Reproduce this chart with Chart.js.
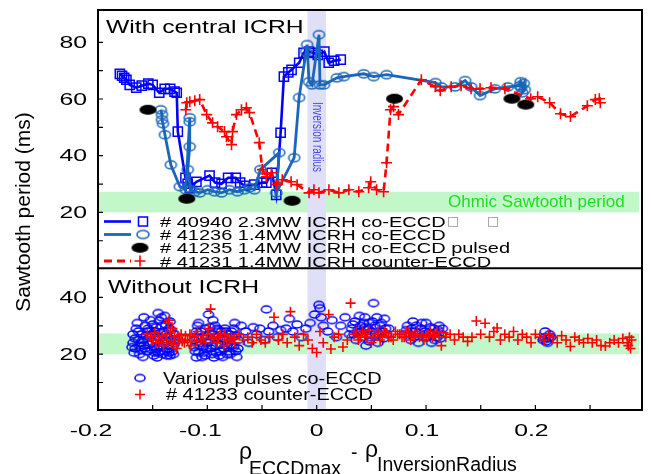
<!DOCTYPE html>
<html>
<head>
<meta charset="utf-8">
<script src="https://cdn.jsdelivr.net/npm/chart.js@4.4.1/dist/chart.umd.min.js"></script>
<style>
html,body{margin:0;padding:0;background:#ffffff;overflow:hidden;}
canvas{display:block;}
</style>
</head>
<body>
<canvas id="chart" width="651" height="474"></canvas>
<script>
// ---------------- DATA ----------------
const xTickValues = [-0.2, -0.1, 0, 0.1, 0.2];
const xTickLabels = ['-0.2', '-0.1', '0', '0.1', '0.2'];
const xMinorTickValues = [-0.15, -0.1, -0.05, 0, 0.05, 0.1, 0.15, 0.2, 0.25];
const yTopTickValues = [20, 40, 60, 80];
const yTopMinorTickValues = [10, 20, 30, 40, 50, 60, 70, 80];
const yBottomTickValues = [20, 40];
const yBottomMinorTickValues = [10, 20, 30, 40];
const ohmicBand = [20, 27.3];
const inversionBand = [-0.0085, 0.0085];

// # 40940 2.3MW ICRH co-ECCD
const s40940X = [-0.180,-0.178,-0.176,-0.174,-0.171,-0.165,-0.160,-0.154,-0.150,-0.144,-0.139,-0.134,-0.130,-0.128,-0.127,-0.120,-0.118,-0.116,-0.110,-0.098,-0.093,-0.087,-0.081,-0.074,-0.070,-0.066,-0.057,-0.050,-0.046,-0.041,-0.037,-0.033,-0.030,-0.026,-0.023,-0.016,-0.012,-0.007,-0.003,0.001,0.007,0.011,0.016,0.022];
const s40940Y = [68.9,68.2,67.5,66.8,65.0,64.0,64.7,65.4,65.0,62.2,63.6,63.6,62.6,62.2,48.5,32.2,30.1,28.7,30.8,33.0,30.5,30.1,32.2,32.2,30.5,29.4,29.8,30.5,30.5,34.0,26.2,48.1,67.9,69.4,70.3,72.8,76.3,76.7,76.3,75.6,76.7,72.8,73.5,73.9];

// # 41236 1.4MW ICRH co-ECCD
const s41236X = [-0.1425,-0.1415,-0.1415,-0.1406,-0.1388,-0.1334,-0.1252,-0.1197,-0.1161,-0.1161,-0.1161,-0.1179,-0.1152,-0.1115,-0.107,-0.0997,-0.0934,-0.087,-0.0797,-0.0725,-0.0661,-0.0615,-0.057,-0.0515,-0.0343,-0.037,-0.0206,-0.0161,-0.0097,-0.0088,-0.007,-0.0043,0.0021,0.003,0.0066,0.0185,0.0248,0.043,0.0521,0.0639,0.1085,0.1139,0.1266,0.1357,0.1412,0.1494,0.163,0.1748,0.1857,0.1866,0.1903,0.1880,0.1894,0.1870];
const s41236Y = [56.2,54.5,52.7,51.3,47.4,36.8,29.1,28.0,53.4,52.0,43.2,35.1,28.0,27.3,26.9,28.0,27.3,26.9,28.0,27.3,28.0,28.7,28.0,35.1,41.1,26.9,39.3,60.5,76.7,79.2,66.1,65.0,82.7,65.0,65.0,67.5,67.9,68.9,67.9,68.6,65.8,64.3,64.3,66.5,64.3,61.2,63.6,64.3,64.7,66.1,63.3,62.2,65.5,64.0];

// # 41235 1.4MW ICRH co-ECCD pulsed
const s41235X = [-0.1543,-0.1188,-0.0225,0.0712,0.1785,0.1912];
const s41235Y = [56.2,24.8,24.1,60.1,60.1,58.0];

// # 41231 1.4MW ICRH counter-ECCD
const s41231X = [-0.1197,-0.1188,-0.1161,-0.1115,-0.107,-0.1006,-0.0952,-0.0906,-0.0843,-0.0825,-0.0779,-0.077,-0.0734,-0.0688,-0.0643,-0.0615,-0.0525,-0.0497,-0.0461,-0.0415,-0.037,-0.0315,-0.0234,-0.0179,-0.007,-0.0025,0.0021,0.0112,0.0203,0.0294,0.0385,0.0475,0.0494,0.0548,0.0612,0.0639,0.0675,0.0703,0.0748,0.0957,0.1085,0.113,0.123,0.1321,0.1412,0.1494,0.1594,0.1721,0.1957,0.2021,0.213,0.223,0.2321,0.2475,0.2548,0.2585,0.2594];
const s41231Y = [56.2,58.7,59.0,59.4,59.8,54.5,51.6,50.2,48.5,46.7,43.9,48.5,54.5,56.2,56.9,55.2,44.6,35.1,32.6,34.0,29.8,31.5,30.8,29.8,26.9,28.0,26.9,28.0,26.9,28.0,27.3,28.7,30.8,28.0,27.3,37.5,56.2,57.3,54.5,66.8,64.3,62.9,64.3,64.7,63.6,63.6,64.0,63.6,60.1,60.8,58.7,54.8,53.8,57.6,59.8,60.1,58.7];

// Without ICRH: various pulses co-ECCD [x, y]
const variousCoEccd = [
[-0.168,24],[-0.168,27],[-0.166,22],[-0.165,29],[-0.163,25],[-0.162,20],[-0.160,27],[-0.158,23],[-0.157,30],[-0.155,21],[-0.153,26],[-0.152,32],[-0.150,24],[-0.149,19.5],[-0.148,28],[-0.146,22],[-0.145,34.5],[-0.144,26],[-0.142,30],[-0.141,20],[-0.140,24],[-0.139,33.5],[-0.138,27],[-0.136,22],[-0.135,29],[-0.134,19.5],[-0.133,25],[-0.131,23],[-0.130,27],
[-0.167,20.5],[-0.164,31],[-0.161,24],[-0.159,19],[-0.156,26.5],[-0.154,29],[-0.151,21.5],[-0.147,25],[-0.143,22.5],[-0.140,28],[-0.137,19.5],[-0.137,24.5],[-0.134,31.5],[-0.132,21],[-0.129,25],[-0.150,30.5],[-0.146,18.8],[-0.158,33],[-0.144,31.8],
[-0.169,22.5],[-0.166,25.5],[-0.163,28],[-0.161,21.5],[-0.159,25],[-0.157,22],[-0.155,28],[-0.153,23.5],[-0.151,27],[-0.149,22.5],[-0.147,29.5],[-0.145,20.5],[-0.143,27.5],[-0.141,23],[-0.139,21],[-0.138,30.5],[-0.136,26],[-0.135,20.5],[-0.133,28.5],[-0.131,20],[-0.130,24],[-0.162,23],[-0.148,20.5],[-0.142,33],
[-0.112,25],[-0.111,21],[-0.110,28],[-0.108,31],[-0.107,23],[-0.105,19],[-0.104,26],[-0.102,29],[-0.101,22],[-0.099,34],[-0.098,25],[-0.096,20],[-0.095,27],[-0.093,30],[-0.092,23],[-0.090,26],[-0.089,19.5],[-0.087,28],[-0.085,22],[-0.084,25],[-0.082,20],[-0.080,27],[-0.078,23],[-0.076,29],[-0.074,21],[-0.072,25],
[-0.110,18.8],[-0.106,24],[-0.103,20.5],[-0.100,26.5],[-0.097,22],[-0.094,18.8],[-0.091,29],[-0.088,23.5],[-0.086,19],[-0.083,28],[-0.081,24],[-0.079,20],[-0.077,26],[-0.075,31],[-0.073,19],[-0.109,30],[-0.095,32],
[-0.112,22.5],[-0.110,26],[-0.108,20.5],[-0.106,28],[-0.104,22.5],[-0.102,19.5],[-0.100,24],[-0.098,29.5],[-0.096,23],[-0.094,26],[-0.092,20.5],[-0.090,28.5],[-0.088,21],[-0.086,25.5],[-0.084,29],[-0.082,23],[-0.080,21],[-0.078,28],[-0.076,22.5],[-0.074,26.5],[-0.072,22],
[-0.069,30],[-0.065,28],[-0.062,24],[-0.058,29.5],[-0.055,27],[-0.052,29],[-0.048,25],[-0.046,35.8],[-0.044,28],[-0.040,30],[-0.036,26],[-0.033,28.5],
[-0.028,29],[-0.025,32.5],[-0.022,28],[-0.018,30.5],[-0.014,26],[-0.010,29],[-0.006,31],[-0.002,34],[0.002,37.4],[0.003,36.2],[0.004,33],[0.006,30],[0.010,28],[0.014,32],[0.018,26],[0.022,30],[0.026,33],[0.030,27],[0.033,30.5],[0.036,25],[0.039,33.5],[0.041,28],[0.043,31],[0.045,23],[0.047,29],[0.049,26],[0.051,31.5],[0.052,38],[0.054,27],[0.056,24],[0.058,30],[0.060,28],[0.062,32.5],[0.066,29],
[0.032,29],[0.035,31.5],[0.037,27.5],[0.040,30],[0.042,26],[0.044,33],[0.046,28.5],[0.048,31],[0.050,28],[0.053,30],[0.055,33],[0.057,27],[0.059,31],[0.061,25.5],[0.063,29],[0.064,27],[0.038,28.5],[0.048,24.5],[0.034,27],[0.044,29.5],
[0.080,27],[0.083,30],[0.086,25],[0.088,31.5],[0.090,28],[0.093,24],[0.095,29],[0.098,26],[0.100,31],[0.103,27.5],[0.105,24],[0.107,29],[0.110,26],[0.112,30],[0.114,27],
[0.082,28.5],[0.085,27],[0.087,29],[0.089,26],[0.091,30],[0.094,27.5],[0.096,31],[0.099,28],[0.101,26],[0.104,29.5],[0.106,27],[0.108,25],[0.111,28.5],[0.113,25.5],[0.115,29],
[0.207,25],[0.209,28],[0.211,24],[0.213,27],[0.214,26],[0.209,26],[0.212,25.5],[0.210,24.5]
];

// Without ICRH: # 41233 counter-ECCD [x, y]
const counterEccd41233 = [
[-0.155,27],[-0.150,25],[-0.147,24],[-0.145,26.5],[-0.142,25],[-0.140,23],[-0.138,27],[-0.136,31],[-0.135,32],[-0.133,24],[-0.132,29],[-0.130,26],[-0.128,22],[-0.126,25],[-0.124,27],[-0.121,24],[-0.118,25],[-0.115,23],[-0.112,26],[-0.109,28],[-0.106,25],[-0.102,24],[-0.099,29],[-0.097,35.9],[-0.094,26],[-0.091,24],[-0.088,27],[-0.085,23],[-0.082,25],[-0.078,26],[-0.075,24],[-0.071,27],[-0.067,25],[-0.063,26],[-0.059,24],[-0.055,27],[-0.051,25],[-0.047,24],[-0.043,26],[-0.039,33],[-0.035,25],[-0.031,27],[-0.027,24],[-0.024,35],[-0.020,26],[-0.016,23],[-0.012,27],[-0.008,25],[-0.004,22],[0.000,20.6],[0.003,28],[0.006,24],[0.011,34],[0.013,21.8],[0.016,26],[0.020,27],[0.024,22.5],[0.028,25],[0.031,38],[0.034,27],[0.038,25],[0.042,28],[0.046,26],[0.050,24],[0.054,27],[0.058,25],[0.062,28],[0.066,26],[0.070,25],[0.074,27],[0.078,26],[0.082,28],[0.086,25],[0.090,27],[0.094,26],[0.098,25],[0.102,27],[0.106,26],[0.110,28],[0.114,23],[0.118,26],[0.122,27],[0.126,25],[0.130,27],[0.134,26],[0.138,24.5],[0.142,26],[0.146,31.7],[0.150,27],[0.154,30.9],[0.158,26],[0.162,28],[0.165,29.2],[0.168,25],[0.172,27],[0.176,26],[0.180,28],[0.184,25],[0.188,27],[0.192,26],[0.196,24],[0.200,27],[0.204,26],[0.208,25],[0.212,27],[0.216,26],[0.220,24],[0.224,26.5],[0.228,25],[0.232,22.7],[0.236,26],[0.240,25],[0.244,24],[0.248,25.5],[0.252,24],[0.256,25],[0.260,23],[0.264,22.9],[0.268,24],[0.272,25],[0.276,24],[0.280,25.5],[0.284,24],[0.285,23],[0.286,26],[0.287,22],[0.288,25],
[-0.152,26],[-0.148,27.5],[-0.144,24],[-0.141,26.5],[-0.137,25],[-0.134,28],[-0.131,23.5],[-0.127,26.5],[-0.123,24.5],
[-0.120,26.5],[-0.116,27],[-0.110,24.5],[-0.104,26.5],[-0.100,27],[-0.096,25.5],[-0.090,26],[-0.084,27],[-0.080,24.5],[-0.076,25.5],
[0.036,28],[0.040,26],[0.044,27],[0.048,28.5],[0.052,26],[0.056,28],[0.060,26.5],[0.064,27.5],[0.068,26],[0.072,28],[0.076,27],[0.080,26],[0.084,27.5],[0.088,26.5],[0.092,28],[0.096,27],[0.100,26],[0.104,28],[0.108,27],[0.112,26],[0.116,27.5]
];

const topPanelTitle = 'With central ICRH';
const bottomPanelTitle = 'Without ICRH';
const topLegendLabels = ['# 40940 2.3MW ICRH co-ECCD', '# 41236 1.4MW ICRH co-ECCD', '# 41235 1.4MW ICRH co-ECCD pulsed', '# 41231 1.4MW ICRH counter-ECCD'];
const bottomLegendLabels = ['Various pulses co-ECCD', '# 41233 counter-ECCD'];
const yAxisTitle = 'Sawtooth period (ms)';
const ohmicLabel = 'Ohmic Sawtooth period';
const inversionLabel = 'Inversion radius';

// ---------------- HELPERS ----------------
const FF = '"Liberation Sans", Arial, Helvetica, sans-serif';
const C_BLUE = '#0000ff', C_STEEL = '#1a66b8', C_RED = '#ff0000';

function pts(xs, ys) { return xs.map((x, i) => ({ x: x, y: ys[i] })); }
function pairPts(arr) { return arr.map(p => ({ x: p[0], y: p[1] })); }

function ellipseMarker(w, h, stroke, fill, lw) {
  const pad = Math.ceil(lw || 0) + 1;
  const c = document.createElement('canvas');
  c.width = Math.ceil(w + 2 * pad); c.height = Math.ceil(h + 2 * pad);
  const g = c.getContext('2d');
  g.beginPath();
  g.ellipse(c.width / 2, c.height / 2, w / 2, h / 2, 0, 0, Math.PI * 2);
  if (fill) { g.fillStyle = fill; g.fill(); }
  if (stroke) { g.lineWidth = lw; g.strokeStyle = stroke; g.stroke(); }
  return c;
}
const mkSteel = ellipseMarker(11, 8, C_STEEL, null, 1.5);
const mkBlack = ellipseMarker(17, 10, null, '#000000', 0);
const mkBlue = ellipseMarker(10, 7, C_BLUE, null, 1.5);

function txt(ctx, s, x, y, size, color, sx, align, baseline) {
  ctx.save();
  ctx.font = size + 'px ' + FF;
  ctx.fillStyle = color;
  ctx.textAlign = 'left';
  ctx.textBaseline = baseline || 'alphabetic';
  const w = ctx.measureText(s).width * sx;
  let x0 = x;
  if (align === 'center') x0 = x - w / 2;
  else if (align === 'right') x0 = x - w;
  ctx.translate(x0, y);
  ctx.scale(sx, 1);
  ctx.fillText(s, 0, 0);
  ctx.restore();
}
function drawPlus(ctx, x, y, r, color, lw) {
  ctx.save(); ctx.strokeStyle = color; ctx.lineWidth = lw;
  ctx.beginPath(); ctx.moveTo(x - r, y); ctx.lineTo(x + r, y); ctx.moveTo(x, y - r); ctx.lineTo(x, y + r); ctx.stroke();
  ctx.restore();
}
function drawImg(ctx, img, x, y) { ctx.drawImage(img, x - img.width / 2, y - img.height / 2); }

// ---------------- DECORATION PLUGIN ----------------
const decor = {
  id: 'decor',
  beforeDatasetsDraw(chart) {
    const ctx = chart.ctx, a = chart.chartArea, x = chart.scales.x, yT = chart.scales.yT, yB = chart.scales.yB;
    ctx.save();
    ctx.fillStyle = '#c2f8c9';
    [yT, yB].forEach(s => {
      const t = s.getPixelForValue(ohmicBand[1]), b = s.getPixelForValue(ohmicBand[0]);
      ctx.fillRect(a.left, t, a.right - a.left - 3, b - t);
    });
    const l = x.getPixelForValue(inversionBand[0]), r = x.getPixelForValue(inversionBand[1]);
    ctx.fillStyle = '#dfdff7';
    ctx.fillRect(l, a.top, r - l, a.bottom - a.top);
    ctx.save();
    ctx.translate((l + r) / 2 + 0.5, 137);
    ctx.rotate(Math.PI / 2);
    ctx.scale(0.71, 1);
    ctx.font = '14px ' + FF;
    ctx.fillStyle = '#4646e6';
    ctx.textAlign = 'center';
    ctx.textBaseline = 'middle';
    ctx.fillText(inversionLabel, 0, 0);
    ctx.restore();
    ctx.restore();
  },
  afterDraw(chart) {
    const ctx = chart.ctx, a = chart.chartArea, x = chart.scales.x, yT = chart.scales.yT, yB = chart.scales.yB;
    ctx.save();
    ctx.strokeStyle = '#000000';
    ctx.lineWidth = 2;
    ctx.strokeRect(a.left, a.top, a.right - a.left, a.bottom - a.top);
    ctx.beginPath(); ctx.moveTo(a.left, yT.bottom); ctx.lineTo(a.right, yT.bottom); ctx.stroke();
    ctx.lineWidth = 1.2;
    ctx.beginPath();
    yTopMinorTickValues.forEach(v => { const p = yT.getPixelForValue(v); ctx.moveTo(a.left, p); ctx.lineTo(a.left + 5, p); });
    yBottomMinorTickValues.forEach(v => { const p = yB.getPixelForValue(v); ctx.moveTo(a.left, p); ctx.lineTo(a.left + 5, p); });
    xMinorTickValues.forEach(v => { const p = x.getPixelForValue(v); ctx.moveTo(p, a.bottom); ctx.lineTo(p, a.bottom - 5); });
    ctx.stroke();
    xTickValues.forEach((v, i) => {
      const lab = xTickLabels[i];
      const off = lab.charAt(0) === '-' ? -7 : (lab === '0' ? 0 : -4);
      txt(ctx, lab, x.getPixelForValue(v) + off, a.bottom + 21, 16.5, '#000', 1.5, 'center', 'middle');
    });
    yTopTickValues.forEach(v => txt(ctx, String(v), 87, yT.getPixelForValue(v) + 1, 16.5, '#000', 1.5, 'right', 'middle'));
    yBottomTickValues.forEach(v => txt(ctx, String(v), 87, yB.getPixelForValue(v) + 1, 16.5, '#000', 1.5, 'right', 'middle'));
    ctx.save();
    ctx.translate(24, 212);
    ctx.rotate(-Math.PI / 2);
    ctx.font = '21px ' + FF;
    ctx.fillStyle = '#000';
    ctx.textAlign = 'center';
    ctx.textBaseline = 'middle';
    ctx.fillText(yAxisTitle, 0, 0);
    ctx.restore();
    txt(ctx, '\u03C1', 239, 458.5, 23, '#000', 1, 'left');
    txt(ctx, 'ECCDmax', 249, 475, 19.5, '#000', 1, 'left');
    txt(ctx, '-', 351, 459, 19.5, '#000', 1, 'left');
    txt(ctx, '\u03C1', 365, 457, 23, '#000', 1, 'left');
    txt(ctx, 'InversionRadius', 377, 471, 19.5, '#000', 1, 'left');
    txt(ctx, topPanelTitle, 106, 32.5, 19, '#000', 1.3, 'left');
    txt(ctx, bottomPanelTitle, 108, 293, 19, '#000', 1.3, 'left');
    txt(ctx, ohmicLabel, 448, yT.getPixelForValue(23.6), 17, '#22dd22', 1.0, 'left', 'middle');
    const rows = [221.5, 234.5, 247.8, 261];
    ctx.lineWidth = 2.6;
    ctx.strokeStyle = C_BLUE;
    ctx.beginPath(); ctx.moveTo(104, rows[0]); ctx.lineTo(131, rows[0]); ctx.stroke();
    ctx.lineWidth = 1.5;
    ctx.strokeRect(143 - 4.5, rows[0] - 4.5, 9, 9);
    ctx.lineWidth = 2.8;
    ctx.strokeStyle = C_STEEL;
    ctx.beginPath(); ctx.moveTo(104, rows[1]); ctx.lineTo(131, rows[1]); ctx.stroke();
    drawImg(ctx, ellipseMarker(12, 8, C_STEEL, null, 1.5), 143, rows[1]);
    drawImg(ctx, mkBlack, 140, rows[2]);
    ctx.save();
    ctx.strokeStyle = C_RED; ctx.lineWidth = 2.8; ctx.setLineDash([8, 5]);
    ctx.beginPath(); ctx.moveTo(104, rows[3]); ctx.lineTo(131, rows[3]); ctx.stroke();
    ctx.restore();
    drawPlus(ctx, 140, rows[3], 5.5, C_RED, 1.6);
    topLegendLabels.forEach((s, i) => txt(ctx, s, 160, rows[i] + 5.5, 15.5, '#000', 1.29, 'left'));
    ctx.strokeStyle = '#aaaaaa'; ctx.lineWidth = 1;
    ctx.strokeRect(448.5, 217.5, 9, 9);
    ctx.strokeRect(488.5, 217.5, 9, 9);
    drawImg(ctx, mkBlue, 140, 378);
    txt(ctx, bottomLegendLabels[0], 163, 383.5, 17, '#000', 1.17, 'left');
    drawPlus(ctx, 140, 394.5, 5, C_RED, 1.5);
    txt(ctx, bottomLegendLabels[1], 166, 400, 17, '#000', 1.17, 'left');
    ctx.restore();
  }
};

// ---------------- CHART ----------------
new Chart(document.getElementById('chart'), {
  type: 'scatter',
  data: {
    datasets: [
      { label: topLegendLabels[2], data: pts(s41235X, s41235Y), yAxisID: 'yT', showLine: false,
        pointStyle: mkBlack, pointRadius: 8 },
      { label: topLegendLabels[3], data: pts(s41231X, s41231Y), yAxisID: 'yT', showLine: true,
        borderColor: C_RED, borderWidth: 2.6, borderDash: [8, 5], tension: 0,
        pointStyle: 'cross', pointRadius: 5.5, pointBorderColor: C_RED, pointBorderWidth: 1.6, pointBackgroundColor: C_RED },
      { label: topLegendLabels[1], data: pts(s41236X, s41236Y), yAxisID: 'yT', showLine: true,
        borderColor: C_STEEL, borderWidth: 2.8, tension: 0,
        pointStyle: mkSteel, pointRadius: 5 },
      { label: topLegendLabels[0], data: pts(s40940X, s40940Y), yAxisID: 'yT', showLine: true,
        borderColor: C_BLUE, borderWidth: 2.6, tension: 0,
        pointStyle: 'rect', pointRadius: 6.5, pointBorderColor: C_BLUE, pointBorderWidth: 1.5, pointBackgroundColor: 'rgba(0,0,0,0)' },
      { label: bottomLegendLabels[1], data: pairPts(counterEccd41233), yAxisID: 'yB', showLine: false,
        pointStyle: 'cross', pointRadius: 5, pointBorderColor: C_RED, pointBorderWidth: 1.6, pointBackgroundColor: C_RED },
      { label: bottomLegendLabels[0], data: pairPts(variousCoEccd), yAxisID: 'yB', showLine: false,
        pointStyle: mkBlue, pointRadius: 5 }
    ]
  },
  options: {
    responsive: false,
    animation: false,
    devicePixelRatio: 1,
    events: [],
    layout: { padding: { left: 0, right: 6, top: 10, bottom: 0 } },
    plugins: { legend: { display: false }, tooltip: { enabled: false } },
    scales: {
      x: { type: 'linear', position: 'bottom', min: -0.2, max: 0.2975,
        grid: { display: false }, border: { display: false }, ticks: { display: false },
        afterFit(s) { s.height = 64; } },
      yB: { type: 'linear', position: 'left', min: 0.3, max: 50.3, stack: 'panels', stackWeight: 50, weight: 1,
        grid: { display: false }, border: { display: false }, ticks: { display: false },
        afterFit(s) { s.width = 98; } },
      yT: { type: 'linear', position: 'left', min: 0.3, max: 91.4, stack: 'panels', stackWeight: 91.1, weight: 2,
        grid: { display: false }, border: { display: false }, ticks: { display: false },
        afterFit(s) { s.width = 98; } }
    }
  },
  plugins: [decor]
});
</script>
</body>
</html>
